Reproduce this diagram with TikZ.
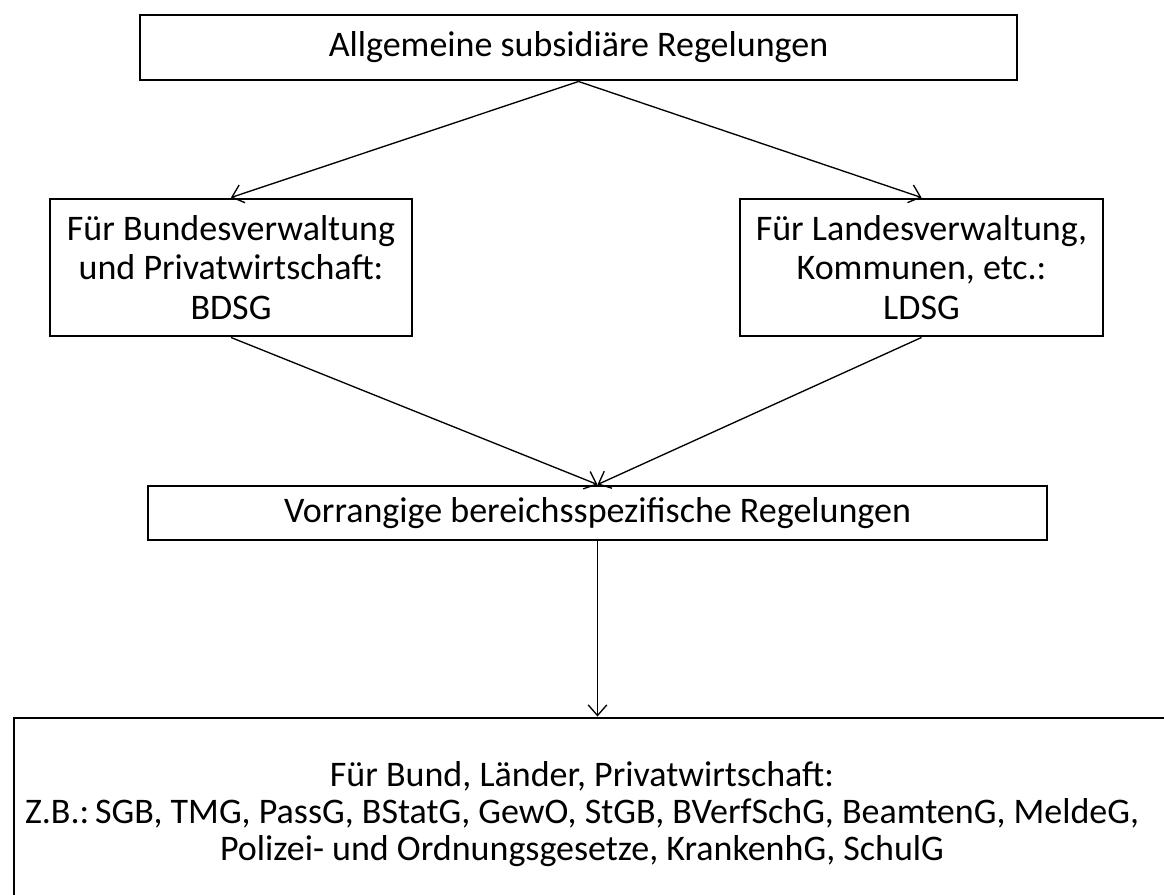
\documentclass[tikz,border=0pt]{standalone}
\usepackage{fontspec}
\setmainfont{Carlito}
\usetikzlibrary{arrows.meta}
\frenchspacing
\begin{document}
\begin{tikzpicture}[x=0.75pt,y=-0.75pt,
  box/.style={draw,line width=2.2pt,inner sep=0pt,align=center,font=\fontsize{27}{29.5}\selectfont},
  txt/.style={inner sep=0pt,align=center,font=\fontsize{27}{27.5}\selectfont},
  conn/.style={line width=1pt,-{Straight Barb[length=8pt,width=14pt,line width=1pt]}}]
\useasboundingbox (0,0) rectangle (1164,894);
\begin{scope}
\clip (0,0) rectangle (1164,894);
\node[box,minimum width=657.75pt,minimum height=48.75pt] (top) at (578.5,47.5) {Allgemeine subsidiäre Regelungen};
\node[box,minimum width=271.5pt,minimum height=102.75pt] (left) at (231,267.5) {Für Bundesverwaltung\\und Privatwirtschaft:\\BDSG};
\node[box,minimum width=272.25pt,minimum height=102.75pt] (right) at (921.5,267.5) {Für Landesverwaltung,\\Kommunen, etc.:\\LDSG};
\node[box,minimum width=674.25pt,minimum height=40.5pt] (mid) at (597.5,513) {Vorrangige bereichsspezifische Regelungen};
\node[box,minimum width=874.5pt,minimum height=144pt] (bottom) at (597,814) {};
\node[txt] (bottomtext) at (582,814) {Für Bund, Länder, Privatwirtschaft:\\Z.B.:\,SGB, TMG, PassG, BStatG, GewO, StGB, BVerfSchG, BeamtenG, MeldeG,\\Polizei- und Ordnungsgesetze, KrankenhG, SchulG};
\end{scope}
\draw[conn] (top.south) -- (left.north);
\draw[conn] (top.south) -- (right.north);
\draw[conn] (left.south) -- (mid.north);
\draw[conn] (right.south) -- (mid.north);
\draw[conn] (mid.south) -- (mid.south |- bottom.north);
\end{tikzpicture}
\end{document}
